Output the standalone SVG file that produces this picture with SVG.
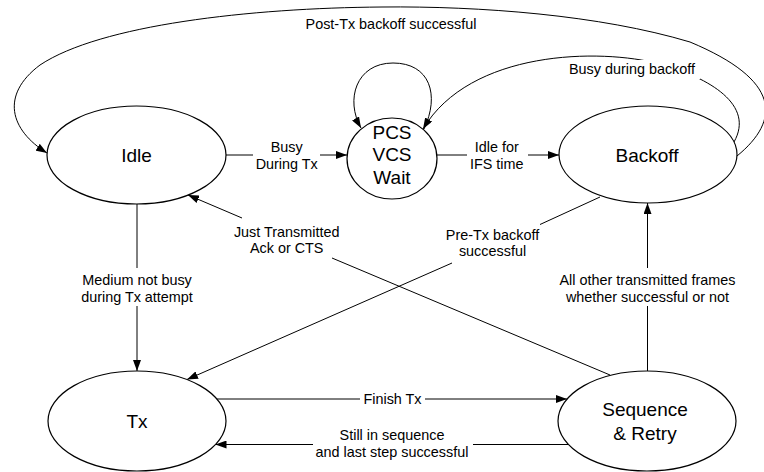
<svg xmlns="http://www.w3.org/2000/svg" width="764" height="472" viewBox="0 0 764 472">
<style>
.node{fill:#fff;stroke:#000;stroke-width:1.2}
.nt{font-family:"Liberation Sans",Arial,sans-serif;font-size:19px;text-anchor:middle;fill:#000}
.lt{font-family:"Liberation Sans",Arial,sans-serif;font-size:14.4px;text-anchor:middle;fill:#000}
.e{fill:none;stroke:#000;stroke-width:1}
</style>
<defs>
<marker id="ah" markerUnits="userSpaceOnUse" markerWidth="11" markerHeight="8" refX="11" refY="4" orient="auto">
<path d="M0,0 L11,4 L0,8 z" fill="#000"/>
</marker>
</defs>
<rect width="764" height="472" fill="#fff"/>
<g id="connectors">
<!-- Post-Tx backoff successful -->
<path class="e" d="M737 156 C781 120,781 80,690 42 C600 15,480 6,382 7 C250 8,100 25,40 65 C0 95,10 130,47 153" marker-end="url(#ah)"/>
<text class="lt" x="391" y="28.5">Post-Tx backoff successful</text>
<!-- Busy during backoff -->
<path class="e" d="M734 142 C755 105,710 78,660 64 C600 48,470 50,423 129" marker-end="url(#ah)"/>
<rect x="566" y="60" width="134" height="19" fill="#fff"/>
<text class="lt" x="632" y="73.5">Busy during backoff</text>
<!-- PCS self loop -->
<path class="e" d="M424 129 C440 95,430 63,393 63 C356 63,345 100,361 128" marker-end="url(#ah)"/>
<!-- Idle -> PCS -->
<path class="e" d="M226 155 H253"/>
<path class="e" d="M320 155 H347" marker-end="url(#ah)"/>
<text class="lt" x="286.7" y="152">Busy</text>
<text class="lt" x="286.7" y="169">During Tx</text>
<!-- PCS -> Backoff -->
<path class="e" d="M437 155 H467"/>
<path class="e" d="M528 155 H559" marker-end="url(#ah)"/>
<text class="lt" x="496.7" y="152">Idle for</text>
<text class="lt" x="496.7" y="169">IFS time</text>
<!-- Idle -> Tx -->
<path class="e" d="M137 204 V268"/>
<path class="e" d="M137 306 V371" marker-end="url(#ah)"/>
<text class="lt" x="137" y="284.5">Medium not busy</text>
<text class="lt" x="137" y="301.5">during Tx attempt</text>
<!-- Seq -> Backoff -->
<path class="e" d="M647.5 371 V306"/>
<path class="e" d="M647.5 268 V203" marker-end="url(#ah)"/>
<text class="lt" x="647.5" y="285">All other transmitted frames</text>
<text class="lt" x="647.5" y="301.5">whether successful or not</text>
<!-- Seq -> Idle -->
<path class="e" d="M610 375 L332 258"/>
<path class="e" d="M242 218 L188 195" marker-end="url(#ah)"/>
<text class="lt" x="286.7" y="236.5">Just Transmitted</text>
<text class="lt" x="286.7" y="252.5">Ack or CTS</text>
<!-- Backoff -> Tx -->
<path class="e" d="M600 197 L540 224.5"/>
<path class="e" d="M452 263 L187 379.5" marker-end="url(#ah)"/>
<text class="lt" x="492.5" y="239.5">Pre-Tx backoff</text>
<text class="lt" x="492.5" y="256">successful</text>
<!-- Tx -> Seq -->
<path class="e" d="M217 399 H360"/>
<path class="e" d="M425 399 H567" marker-end="url(#ah)"/>
<text class="lt" x="392.5" y="404">Finish Tx</text>
<!-- Seq -> Tx -->
<path class="e" d="M568.5 444.5 H473"/>
<path class="e" d="M313 444.5 H215.5" marker-end="url(#ah)"/>
<text class="lt" x="392" y="439.7">Still in sequence</text>
<text class="lt" x="392" y="457">and last step successful</text>
</g>
<g id="idle">
<ellipse class="node" cx="136.5" cy="155" rx="89.5" ry="49"/>
<text class="nt" x="136.5" y="161.5">Idle</text>
</g>
<g id="pcs">
<ellipse class="node" cx="392" cy="158.5" rx="45" ry="40.5"/>
<text class="nt" x="392" y="138.5">PCS</text>
<text class="nt" x="392" y="161">VCS</text>
<text class="nt" x="392" y="184">Wait</text>
</g>
<g id="backoff">
<ellipse class="node" cx="648" cy="154.5" rx="89" ry="48.5"/>
<text class="nt" x="647" y="161.5">Backoff</text>
</g>
<g id="tx">
<ellipse class="node" cx="137" cy="421" rx="89" ry="50"/>
<text class="nt" x="137" y="428">Tx</text>
</g>
<g id="seq">
<ellipse class="node" cx="647" cy="421" rx="89" ry="50"/>
<text class="nt" x="645" y="416">Sequence</text>
<text class="nt" x="645" y="439.5">&amp; Retry</text>
</g>
</svg>
